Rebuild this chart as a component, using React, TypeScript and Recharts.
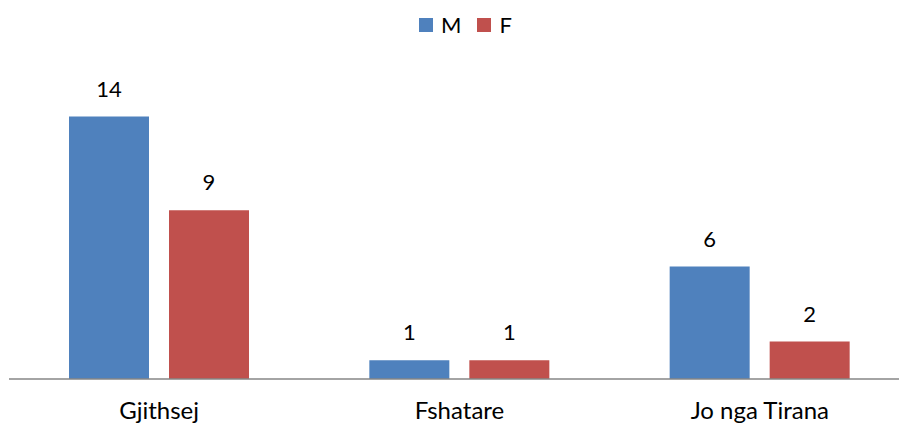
import React from 'react';
import { BarChart, Bar, XAxis, YAxis, LabelList } from 'recharts';

// Categories and values per series
const categories = ['Gjithsej', 'Fshatare', 'Jo nga Tirana'];
const maleValues = [14, 1, 6];
const femaleValues = [9, 1, 2];

const series = [
  { key: 'M', color: '#4F81BD' },
  { key: 'F', color: '#C0504D' },
];

const data = categories.map((name, i) => ({
  name,
  M: maleValues[i],
  F: femaleValues[i],
}));

const FONT = 'Lato, "Open Sans", sans-serif';

const App = () => {
  return (
    <div style={{ position: 'absolute', left: 0, top: 0, width: 899, height: 425, overflow: 'hidden', background: '#fff', fontFamily: FONT }}>
      {/* legend row */}
      <div style={{ position: 'absolute', top: 11, left: 419, display: 'flex', alignItems: 'center', fontSize: 22, lineHeight: '28px', color: '#000' }}>
        {series.map((s) => (
          <div key={s.key} style={{ display: 'flex', alignItems: 'center', marginRight: 16 }}>
            <span style={{ display: 'inline-block', width: 14, height: 14, background: s.color, marginRight: 8 }} />
            <span>{s.key}</span>
          </div>
        ))}
      </div>
      <BarChart
        width={899}
        height={425}
        data={data}
        margin={{ top: 79, right: -11, left: 9, bottom: 0 }}
        barSize={80}
        barGap={20}
      >
        <XAxis
          dataKey="name"
          height={46}
          tickLine={false}
          tickMargin={17}
          axisLine={{ stroke: '#868686', strokeWidth: 1.5 }}
          tick={{ fill: '#000', fontSize: 24, fontFamily: FONT }}
        />
        <YAxis hide domain={[0, 16]} />
        {series.map((s) => (
          <Bar key={s.key} dataKey={s.key} fill={s.color} isAnimationActive={false}>
            <LabelList dataKey={s.key} position="top" offset={20} fill="#000" fontSize={22} fontFamily={FONT} />
          </Bar>
        ))}
      </BarChart>
    </div>
  );
};

export default App;
